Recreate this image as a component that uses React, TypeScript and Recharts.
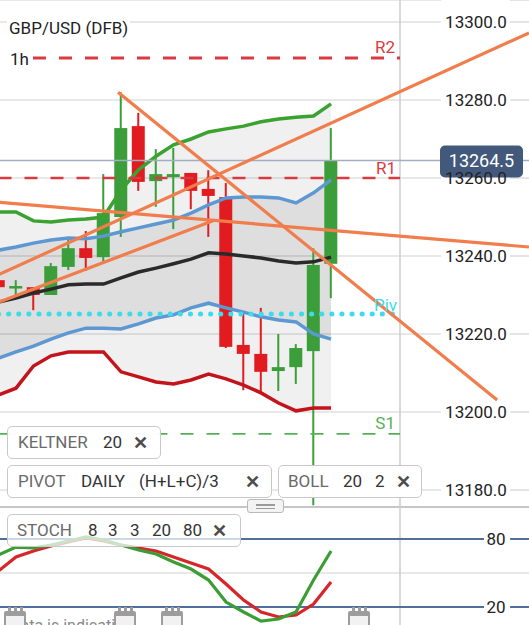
import React from 'react';
import {
  Area,
  Bar,
  CartesianGrid,
  ComposedChart,
  Line,
  LineChart,
  ReferenceLine,
  XAxis,
  YAxis,
} from 'recharts';

// hourly candles, GBP/USD (DFB)
const candleIndex = [0, 1, 2, 3, 4, 5, 6, 7, 8, 9, 10, 11, 12, 13, 14, 15, 16, 17, 18, 19];
const opens = [13233.8, 13232.0, 13232.0, 13230.0, 13237.2, 13242.0, 13239.7, 13250.0, 13273.3, 13259.2, 13260.2, 13261.3, 13257.2, 13255.1, 13217.2, 13214.9, 13210.5, 13211.5, 13215.6, 13238.0];
const highs = [13234.5, 13233.8, 13232.0, 13238.2, 13244.1, 13246.4, 13261.0, 13282.0, 13276.7, 13267.4, 13267.7, 13261.3, 13262.0, 13258.7, 13225.4, 13226.7, 13220.0, 13217.4, 13242.0, 13272.8];
const lows = [13231.0, 13230.0, 13226.1, 13230.0, 13236.4, 13236.2, 13238.2, 13244.9, 13256.7, 13252.6, 13246.9, 13252.0, 13244.9, 13216.4, 13205.6, 13205.1, 13205.4, 13207.2, 13176.1, 13229.2];
const closes = [13232.0, 13232.3, 13230.0, 13237.4, 13242.0, 13239.5, 13251.0, 13272.8, 13259.0, 13261.0, 13261.0, 13256.7, 13255.4, 13216.7, 13214.9, 13210.3, 13211.5, 13216.4, 13237.7, 13264.5];

// keltner 20 / bollinger 20 2
const kcUpper = [13251.3, 13251.3, 13249.0, 13248.7, 13249.2, 13249.5, 13250.0, 13256.9, 13262.1, 13265.6, 13268.5, 13270.0, 13271.8, 13272.6, 13273.3, 13274.4, 13275.1, 13275.6, 13275.9, 13279.0];
const kcLower = [13204.4, 13206.1, 13211.8, 13214.4, 13215.4, 13215.4, 13215.4, 13210.3, 13209.0, 13207.7, 13207.2, 13208.2, 13209.7, 13208.5, 13206.9, 13204.9, 13202.3, 13200.3, 13201.0, 13201.0];
const bbUpper = [13241.5, 13242.3, 13243.3, 13244.1, 13244.6, 13244.4, 13245.1, 13246.2, 13247.2, 13248.2, 13249.2, 13251.0, 13253.1, 13254.9, 13255.1, 13255.1, 13254.9, 13253.6, 13256.2, 13259.5];
const bbLower = [13213.8, 13215.4, 13216.9, 13218.7, 13220.3, 13221.5, 13221.5, 13221.3, 13222.6, 13224.1, 13224.9, 13226.7, 13227.9, 13226.7, 13225.6, 13224.4, 13223.6, 13223.1, 13220.0, 13218.7];
const midLine = [13228.2, 13229.2, 13230.5, 13231.5, 13232.6, 13232.8, 13232.8, 13234.4, 13235.9, 13236.9, 13238.0, 13239.2, 13240.8, 13240.5, 13240.0, 13239.5, 13238.7, 13238.2, 13238.5, 13239.7];

// stoch 8 3 3
const stochK = [65.9, 72.9, 72.1, 74.7, 78.2, 81.8, 79.1, 74.7, 70.3, 66.8, 59.7, 53.5, 43.8, 24.4, 15.6, 7.6, 9.4, 15.6, 43.8, 69.4];
const stochD = [51.8, 64.1, 69.4, 73.8, 77.4, 80.9, 78.2, 74.7, 72.1, 69.4, 64.1, 58.8, 53.5, 40.3, 26.2, 15.6, 11.2, 12.9, 22.6, 42.1];

// daily pivots
const pivotNames = ['R2', 'R1', 'Piv', 'S1'];
const pivotValues = [13290.8, 13260.0, 13225.1, 13194.4];
const lastPrice = 13264.5;

// drawn trend lines: [fromIndex, fromPrice, toIndex, toPrice]
const trendLines = [
  [6.83, 13282.0, 28.49, 13203.1],
  [0, 13235.2, 30.31, 13297.2],
  [0, 13228.1, 12.37, 13249.2],
  [0, 13253.8, 30.31, 13242.3],
];

const priceTicks = [13180, 13200, 13220, 13240, 13260, 13280, 13300];
const stochTicks = [20, 80];

const rows = candleIndex.map((i) => ({
  i,
  open: opens[i],
  high: highs[i],
  low: lows[i],
  close: closes[i],
  range: [lows[i], highs[i]],
  kcUpper: kcUpper[i],
  kcLower: kcLower[i],
  bbUpper: bbUpper[i],
  bbLower: bbLower[i],
  mid: midLine[i],
  kc: [kcLower[i], kcUpper[i]],
  bb: [bbLower[i], bbUpper[i]],
  k: stochK[i],
  d: stochD[i],
}));

const X_DOMAIN: [number, number] = [0.086, 30.31];
const PRICE_DOMAIN: [number, number] = [13175.64, 13305.64];
const STOCH_DOMAIN: [number, number] = [4.12, 108.24];
const SPLIT_X = 22.94; // the vertical divider left of the price scale

const pivotStyle: Record<string, any> = {
  R2: { color: '#d93a42', width: 3, dash: '13 13', from: 1.97, offset: 5 },
  R1: { color: '#d93a42', width: 2.5, dash: '13 13', from: 0, offset: 4 },
  Piv: { color: '#3ddcec', width: 5, dash: '0.1 10', from: 0, offset: 3 },
  S1: { color: '#55b055', width: 1.8, dash: '13 13', from: 0, offset: 5 },
};

const Candle = (props: any) => {
  const { x, y, width, height, payload } = props;
  if (!payload) return null;
  const top = Math.min(y, y + height);
  const h = Math.abs(height);
  const up = payload.close >= payload.open;
  const color = up ? '#3c9e3a' : '#e11b1f';
  const ratio = h / (payload.high - payload.low);
  const bodyTop = top + (payload.high - Math.max(payload.open, payload.close)) * ratio;
  const bodyH = Math.max(2.5, Math.abs(payload.open - payload.close) * ratio);
  const cx = x + width / 2;
  return (
    <g>
      <line x1={cx} x2={cx} y1={top} y2={top + h} stroke={color} strokeWidth={2} />
      <rect x={x} y={bodyTop} width={width} height={bodyH} fill={color} />
    </g>
  );
};

const gridRow = (props: any) => {
  const { y1, index } = props;
  return (
    <g key={`grid-${index}`}>
      <line x1={0} x2={441} y1={y1} y2={y1} stroke="#d2d2d2" strokeWidth={1.2} />
      <line x1={510} x2={529} y1={y1} y2={y1} stroke="#d2d2d2" strokeWidth={1.2} />
    </g>
  );
};

const PriceTick = (props: any) => {
  const { y, payload } = props;
  return (
    <text x={476} y={y + 6} textAnchor="middle" fontSize={17} fill="#222">
      {Number(payload.value).toFixed(1)}
    </text>
  );
};

const StochTick = (props: any) => {
  const { y, payload } = props;
  return (
    <text x={496} y={y + 6} textAnchor="middle" fontSize={17} fill="#222">
      {payload.value}
    </text>
  );
};

const PriceTag = (props: any) => {
  const { viewBox } = props;
  if (!viewBox) return null;
  const y = viewBox.y;
  return (
    <g>
      <rect x={440} y={y - 15} width={83} height={32} rx={5} fill="#43597b" />
      <text x={481.5} y={y + 7} textAnchor="middle" fontSize={18} fill="#fff">
        {lastPrice.toFixed(1)}
      </text>
    </g>
  );
};

type Word = { t: string; x: number; c: string; b?: boolean };

function IndicatorBox({ left, top, width, height, words, bg }: { left: number; top: number; width: number; height: number; words: Word[]; bg: string }) {
  return (
    <div
      style={{
        position: 'absolute',
        left,
        top,
        width,
        height,
        boxSizing: 'border-box',
        border: '1px solid #c9c9c9',
        borderRadius: 5,
        background: bg,
      }}
    >
      {words.map((w, n) => (
        <span
          key={n}
          style={{
            position: 'absolute',
            left: w.x - left - 1,
            top: 7,
            fontSize: w.b ? 18 : 17,
            lineHeight: '17px',
            color: w.c,
            fontWeight: w.b ? 700 : 400,
            whiteSpace: 'nowrap',
          }}
        >
          {w.t}
        </span>
      ))}
    </div>
  );
}

const LABEL = '#6a6a6a';
const PARAM = '#333';
const CLOSE = '#4d4d4d';

function Calendar({ left }: { left: number }) {
  return (
    <svg style={{ position: 'absolute', left, top: 607 }} width={24} height={20}>
      <rect x={1} y={4} width={22} height={16} rx={2} fill="#9d9d9d" />
      <rect x={5} y={0} width={3} height={7} fill="#9d9d9d" />
      <rect x={11} y={0} width={3} height={7} fill="#9d9d9d" />
      <rect x={17} y={0} width={3} height={7} fill="#9d9d9d" />
      <rect x={3} y={9} width={18} height={9} fill="#f2f2f2" />
    </svg>
  );
}

export default function App() {
  return (
    <div
      style={{
        position: 'absolute',
        left: 0,
        top: 0,
        width: 529,
        height: 625,
        overflow: 'hidden',
        background: '#fff',
        fontFamily: 'Roboto, "Noto Sans", sans-serif',
      }}
    >
      <ComposedChart width={529} height={507} data={rows} margin={{ top: 0, right: 0, bottom: 0, left: 0 }}>
        <CartesianGrid vertical={false} horizontal={gridRow} />
        <XAxis dataKey="i" type="number" domain={X_DOMAIN} allowDataOverflow hide />
        <YAxis
          orientation="right"
          mirror
          domain={PRICE_DOMAIN}
          allowDataOverflow
          ticks={priceTicks}
          axisLine={false}
          tickLine={false}
          tick={<PriceTick />}
        />
        <Area dataKey="kc" stroke="none" fill="#000" fillOpacity={0.06} isAnimationActive={false} />
        <Area dataKey="bb" stroke="none" fill="#000" fillOpacity={0.075} isAnimationActive={false} />
        <ReferenceLine x={SPLIT_X} stroke="#cdcdcd" strokeWidth={1.5} />
        <Bar dataKey="range" barSize={13} shape={<Candle />} isAnimationActive={false} />
        <Line dataKey="kcUpper" stroke="#3aa22f" strokeWidth={3.5} dot={false} isAnimationActive={false} />
        <Line dataKey="kcLower" stroke="#c3141b" strokeWidth={3.5} dot={false} isAnimationActive={false} />
        <Line dataKey="bbUpper" stroke="#5d98d2" strokeWidth={3.5} dot={false} isAnimationActive={false} />
        <Line dataKey="bbLower" stroke="#5d98d2" strokeWidth={3.5} dot={false} isAnimationActive={false} />
        <Line dataKey="mid" stroke="#2a2a2a" strokeWidth={3.5} dot={false} isAnimationActive={false} />
        <ReferenceLine y={lastPrice} stroke="#a2adbf" strokeWidth={1.5} label={<PriceTag />} />
        {pivotNames.map((name, n) => {
          const s = pivotStyle[name];
          return (
            <ReferenceLine
              key={name}
              segment={[
                { x: s.from, y: pivotValues[n] },
                { x: SPLIT_X, y: pivotValues[n] },
              ]}
              ifOverflow="hidden"
              stroke={s.color}
              strokeWidth={s.width}
              strokeDasharray={s.dash}
              strokeLinecap={name === 'Piv' ? 'round' : 'butt'}
              label={{ value: name, position: 'insideBottomRight', offset: s.offset, fill: s.color, fontSize: 17 }}
            />
          );
        })}
        {trendLines.map((t, n) => (
          <ReferenceLine
            key={`trend-${n}`}
            segment={[
              { x: t[0], y: t[1] },
              { x: t[2], y: t[3] },
            ]}
            ifOverflow="hidden"
            stroke="#f07d4b"
            strokeWidth={3.2}
          />
        ))}
      </ComposedChart>

      <div style={{ position: 'absolute', left: 0, top: 506, width: 529, height: 1.5, background: '#c6c6c6' }} />

      <div style={{ position: 'absolute', left: 0, top: 507 }}>
        <LineChart width={529} height={118} data={rows} margin={{ top: 0, right: 0, bottom: 0, left: 0 }}>
          <XAxis dataKey="i" type="number" domain={X_DOMAIN} allowDataOverflow hide />
          <YAxis
            orientation="right"
            mirror
            domain={STOCH_DOMAIN}
            allowDataOverflow
            ticks={stochTicks}
            axisLine={false}
            tickLine={false}
            tick={<StochTick />}
          />
          <ReferenceLine y={50} stroke="#d2d2d2" strokeWidth={1.2} />
          <ReferenceLine x={SPLIT_X} stroke="#cdcdcd" strokeWidth={1.5} />
          {stochTicks.map((v) => (
            <ReferenceLine
              key={`l-${v}`}
              segment={[
                { x: 0, y: v },
                { x: 27.74, y: v },
              ]}
              ifOverflow="hidden"
              stroke="#4f6f9c"
              strokeWidth={2}
            />
          ))}
          {stochTicks.map((v) => (
            <ReferenceLine
              key={`r-${v}`}
              segment={[
                { x: 29.23, y: v },
                { x: 30.31, y: v },
              ]}
              ifOverflow="hidden"
              stroke="#4f6f9c"
              strokeWidth={2}
            />
          ))}
          <Line dataKey="d" stroke="#d6262b" strokeWidth={3.2} dot={false} isAnimationActive={false} />
          <Line dataKey="k" stroke="#3a9e34" strokeWidth={3.2} dot={false} isAnimationActive={false} />
        </LineChart>
      </div>

      <div
        style={{
          position: 'absolute',
          left: 7,
          top: 20,
          padding: '0 2px',
          background: '#fff',
          fontSize: 17,
          lineHeight: '17px',
          color: '#222',
        }}
      >
        GBP/USD (DFB)
      </div>
      <div style={{ position: 'absolute', left: 10, top: 51, fontSize: 17, lineHeight: '17px', color: '#222' }}>1h</div>

      <IndicatorBox
        left={7}
        top={426}
        width={154}
        height={33}
        bg="rgba(255,255,255,0.96)"
        words={[
          { t: 'KELTNER', x: 18, c: LABEL },
          { t: '20', x: 103, c: PARAM },
          { t: '✕', x: 133, c: CLOSE, b: true },
        ]}
      />
      <IndicatorBox
        left={7}
        top={465}
        width={265}
        height={33}
        bg="rgba(255,255,255,0.96)"
        words={[
          { t: 'PIVOT', x: 18, c: LABEL },
          { t: 'DAILY', x: 81, c: PARAM },
          { t: '(H+L+C)/3', x: 139, c: PARAM },
          { t: '✕', x: 245, c: CLOSE, b: true },
        ]}
      />
      <IndicatorBox
        left={278}
        top={465}
        width={144}
        height={33}
        bg="rgba(255,255,255,0.96)"
        words={[
          { t: 'BOLL', x: 288, c: LABEL },
          { t: '20', x: 343, c: PARAM },
          { t: '2', x: 375, c: PARAM },
          { t: '✕', x: 396, c: CLOSE, b: true },
        ]}
      />
      <div
        style={{
          position: 'absolute',
          left: 247,
          top: 499,
          width: 37,
          height: 14,
          boxSizing: 'border-box',
          border: '1px solid #b9b9b9',
          borderRadius: 3,
          background: '#f3f3f3',
        }}
      >
        <div style={{ position: 'absolute', left: 8, top: 4, width: 19, height: 1.5, background: '#9a9a9a' }} />
        <div style={{ position: 'absolute', left: 8, top: 7.5, width: 19, height: 1.5, background: '#9a9a9a' }} />
      </div>
      <IndicatorBox
        left={7}
        top={514}
        width={234}
        height={33}
        bg="rgba(255,255,255,0.72)"
        words={[
          { t: 'STOCH', x: 17, c: LABEL },
          { t: '8', x: 88, c: PARAM },
          { t: '3', x: 108, c: PARAM },
          { t: '3', x: 130, c: PARAM },
          { t: '20', x: 152, c: PARAM },
          { t: '80', x: 183, c: PARAM },
          { t: '✕', x: 212, c: CLOSE, b: true },
        ]}
      />

      <div style={{ position: 'absolute', left: 10, top: 618, fontSize: 16, lineHeight: '16px', color: '#8a8a8a' }}>
        Data is indicative
      </div>
      <Calendar left={3} />
      <Calendar left={113} />
      <Calendar left={160} />
      <Calendar left={347} />
    </div>
  );
}
